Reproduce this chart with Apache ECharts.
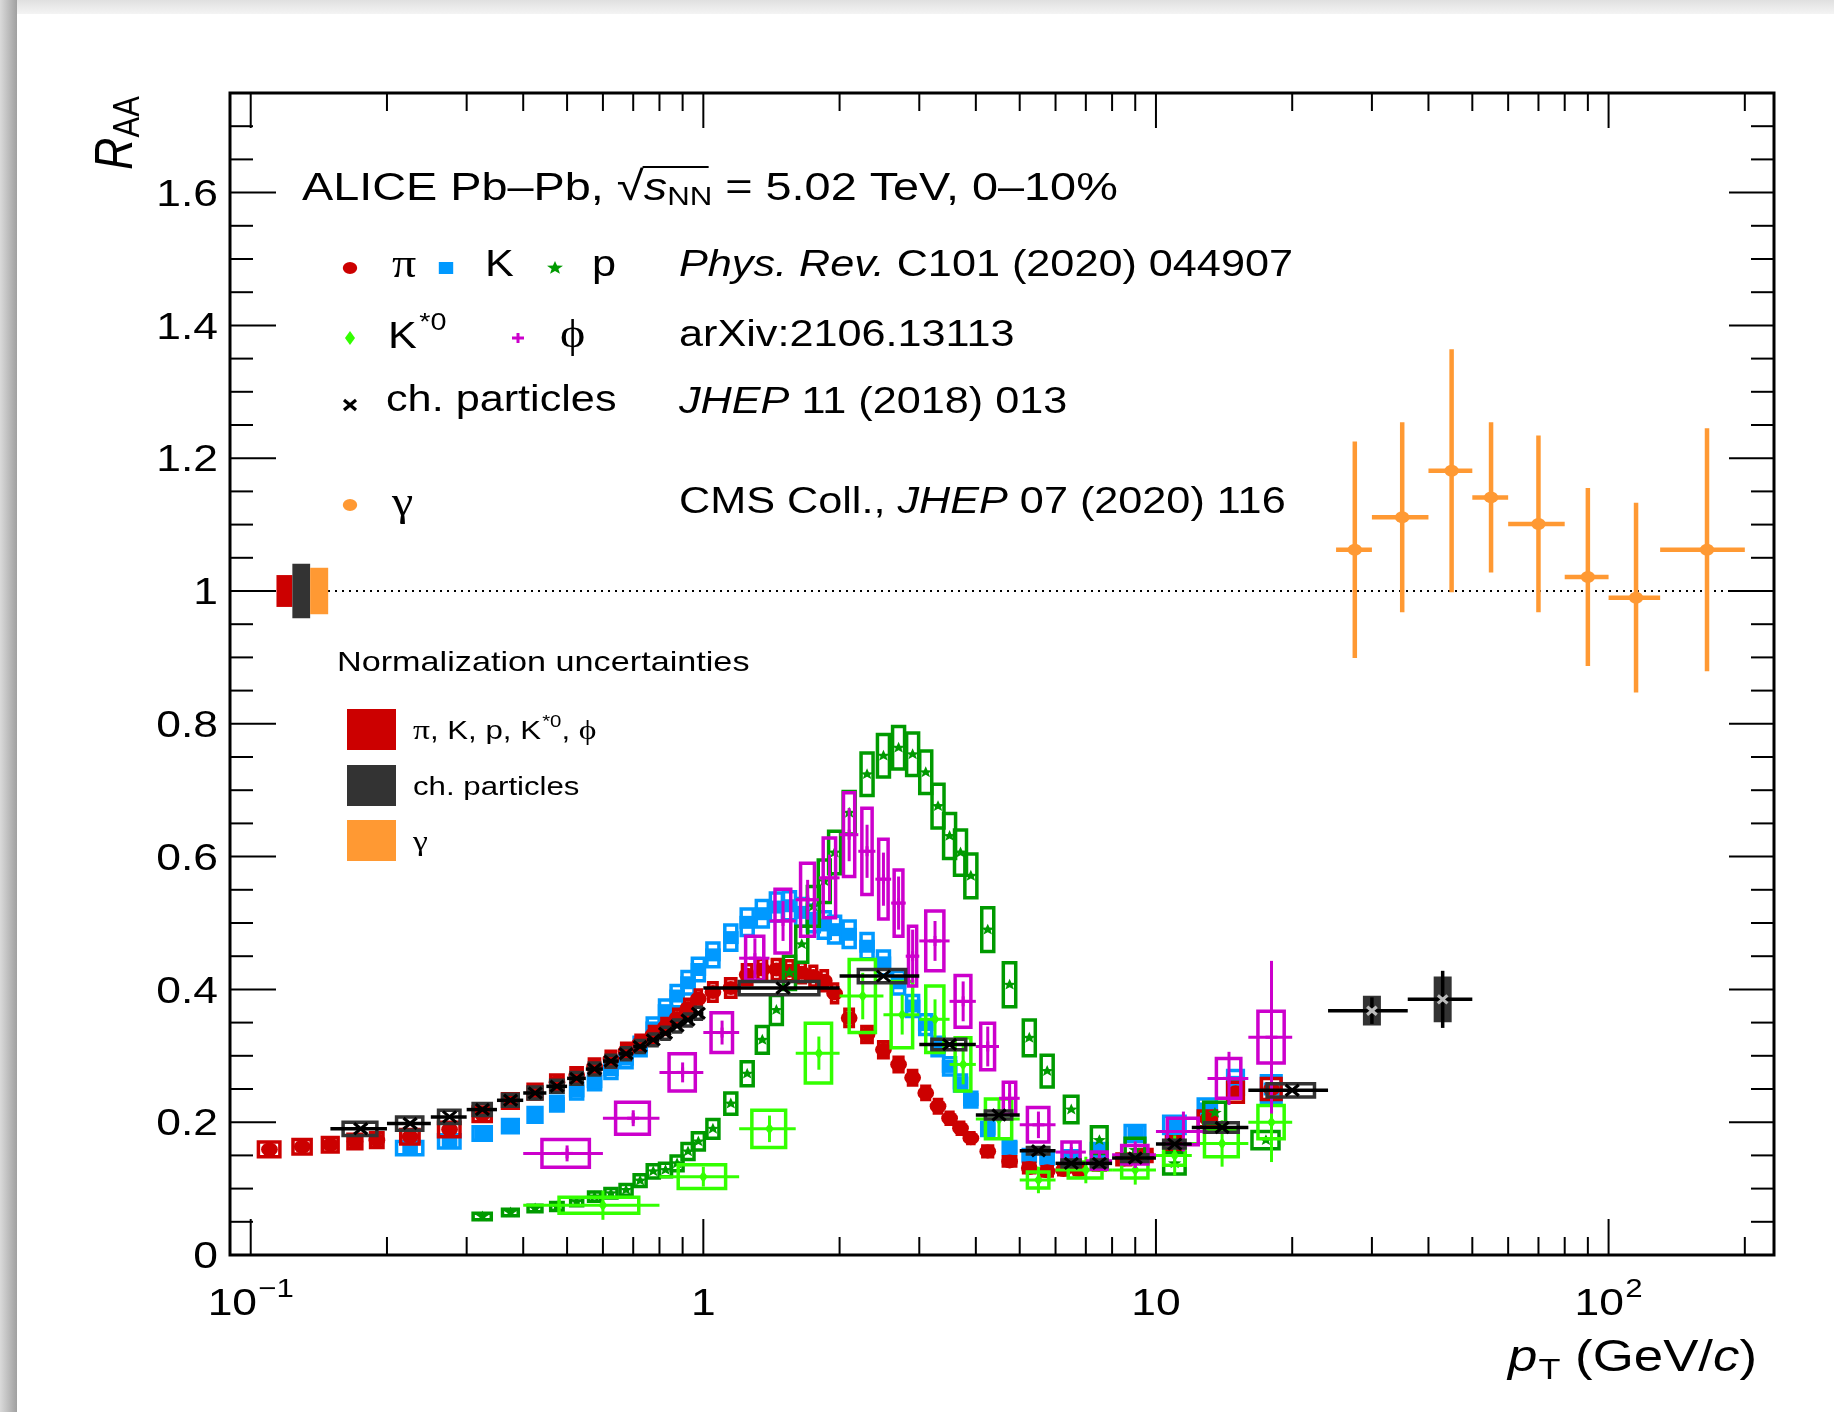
<!DOCTYPE html>
<html><head><meta charset="utf-8">
<script src="https://cdn.jsdelivr.net/npm/echarts@6/dist/echarts.min.js"></script>
<style>
html,body{margin:0;padding:0;background:#fff;}
#bgTop{position:absolute;left:0;top:0;width:1834px;height:14px;background:linear-gradient(#e0e0e0,#f4f4f4);}
#bgLeft{position:absolute;left:0;top:0;width:17px;height:1412px;background:linear-gradient(to right,#dadada,#a0a0a0);}
#chart{position:absolute;left:0;top:0;width:1834px;height:1412px;}
</style></head><body>
<div id="bgTop"></div><div id="bgLeft"></div><div id="chart"></div>
<script>
// ---------------- axes ----------------
const X_MIN = 0.09, X_MAX = 232, Y_MIN = 0, Y_MAX = 1.75;
const xMajorTicks = [0.1, 1, 10, 100];
const xMinorTicks = [0.2,0.3,0.4,0.5,0.6,0.7,0.8,0.9, 2,3,4,5,6,7,8,9, 20,30,40,50,60,70,80,90, 200];
const xTickLabels = [['10','\u22121'], ['1',''], ['10',''], ['10','2']];
const yMajorTicks = [0, 0.2, 0.4, 0.6, 0.8, 1.0, 1.2, 1.4, 1.6];
const yTickLabels = ['0','0.2','0.4','0.6','0.8','1','1.2','1.4','1.6'];
const yMinorTicks = [0.05,0.1,0.15,0.25,0.3,0.35,0.45,0.5,0.55,0.65,0.7,0.75,0.85,0.9,0.95,1.05,1.1,1.15,1.25,1.3,1.35,1.45,1.5,1.55,1.65,1.7];

// ---------------- data ----------------
// pi: [pT, RAA, sys]
const piData = [[0.11,0.159,0.011],[0.13,0.163,0.011],[0.15,0.166,0.011],[0.17,0.171,0.011],[0.19,0.173,0.011],
 [0.225,0.178,0.011],[0.275,0.189,0.011],[0.325,0.212,0.011],[0.375,0.232,0.011],[0.425,0.246,0.011],[0.475,0.260,0.011],
 [0.525,0.271,0.011],[0.575,0.284,0.011],[0.625,0.295,0.012],[0.675,0.307,0.012],[0.725,0.319,0.012],[0.775,0.332,0.012],
 [0.825,0.344,0.012],[0.875,0.357,0.013],[0.925,0.372,0.013],[0.975,0.386,0.013],[1.05,0.396,0.014],[1.15,0.402,0.014],
 [1.25,0.422,0.015],[1.35,0.430,0.015],[1.45,0.430,0.015],[1.55,0.428,0.015],[1.65,0.425,0.015],[1.75,0.420,0.015],
 [1.85,0.413,0.015],[1.95,0.394,0.014],[2.1,0.357,0.013],[2.3,0.332,0.012],[2.5,0.309,0.012],[2.7,0.287,0.011],
 [2.9,0.267,0.011],[3.1,0.244,0.010],[3.3,0.224,0.010],[3.5,0.206,0.009],[3.7,0.191,0.009],[3.9,0.176,0.008],
 [4.25,0.156,0.008],[4.75,0.141,0.007],[5.25,0.131,0.007],[5.75,0.126,0.007],[6.25,0.128,0.007],[6.75,0.128,0.007],
 [7.5,0.136,0.008],[8.5,0.144,0.008],[9.5,0.150,0.009],[11,0.168,0.010],[13,0.205,0.012],[15,0.245,0.015],[18,0.250,0.016]];
// K: [pT, RAA, sys]
const kData = [[0.225,0.161,0.010],[0.275,0.171,0.010],[0.325,0.183,0.010],[0.375,0.194,0.010],[0.425,0.211,0.011],
 [0.475,0.228,0.011],[0.525,0.247,0.012],[0.575,0.261,0.012],[0.625,0.279,0.013],[0.675,0.295,0.013],[0.725,0.314,0.014],
 [0.775,0.342,0.015],[0.825,0.368,0.016],[0.875,0.390,0.016],[0.925,0.410,0.017],[0.975,0.430,0.017],[1.05,0.452,0.018],
 [1.15,0.478,0.019],[1.25,0.501,0.020],[1.35,0.514,0.020],[1.45,0.524,0.021],[1.55,0.526,0.021],[1.65,0.516,0.021],
 [1.75,0.507,0.020],[1.85,0.497,0.020],[1.95,0.490,0.020],[2.1,0.483,0.020],[2.3,0.465,0.019],[2.5,0.440,0.018],
 [2.7,0.410,0.017],[2.9,0.375,0.016],[3.1,0.347,0.015],[3.3,0.314,0.014],[3.5,0.284,0.013],[3.7,0.259,0.012],
 [3.9,0.234,0.011],[4.25,0.190,0.010],[4.75,0.162,0.009],[5.25,0.150,0.009],[5.75,0.146,0.009],[6.5,0.148,0.009],
 [7.5,0.158,0.010],[9,0.183,0.012],[11,0.196,0.013],[13,0.220,0.015],[15,0.260,0.018],[18,0.250,0.020]];
// p: [pT, RAA, sys]
const pData = [[0.325,0.058,0.005],[0.375,0.064,0.005],[0.425,0.070,0.005],[0.475,0.073,0.006],[0.525,0.080,0.006],
 [0.575,0.088,0.007],[0.625,0.093,0.007],[0.675,0.098,0.008],[0.725,0.112,0.009],[0.775,0.126,0.010],[0.825,0.128,0.010],
 [0.875,0.138,0.011],[0.925,0.156,0.012],[0.975,0.171,0.013],[1.05,0.190,0.014],[1.15,0.228,0.016],[1.25,0.273,0.018],
 [1.35,0.324,0.020],[1.45,0.369,0.022],[1.55,0.425,0.025],[1.65,0.468,0.027],[1.75,0.525,0.030],[1.85,0.563,0.032],
 [1.95,0.606,0.032],[2.1,0.666,0.032],[2.3,0.724,0.032],[2.5,0.752,0.032],[2.7,0.764,0.032],[2.9,0.754,0.032],
 [3.1,0.727,0.032],[3.3,0.676,0.033],[3.5,0.631,0.034],[3.7,0.606,0.034],[3.9,0.571,0.033],[4.25,0.490,0.033],
 [4.75,0.407,0.033],[5.25,0.327,0.027],[5.75,0.277,0.024],[6.5,0.219,0.020],[7.5,0.173,0.020],[9,0.158,0.018],
 [11,0.138,0.016],[13.5,0.214,0.016],[17.5,0.173,0.013]];
// K*0: [pT low, pT high, RAA, stat, sys]
const kstarData = [[0.4,0.8,0.075,0.022,0.012],[0.8,1.2,0.118,0.015,0.018],[1.2,1.6,0.190,0.020,0.028],
 [1.6,2.0,0.304,0.025,0.045],[2.0,2.5,0.390,0.035,0.055],[2.5,3.0,0.362,0.030,0.050],[3.0,3.5,0.355,0.030,0.050],
 [3.5,4.0,0.287,0.030,0.040],[4.0,5.0,0.205,0.030,0.030],[5.0,6.0,0.113,0.020,0.012],[6.0,8.0,0.128,0.020,0.012],
 [8.0,10.0,0.128,0.022,0.012],[10.0,12.0,0.150,0.030,0.015],[12.0,16.0,0.168,0.035,0.020],[16.0,20.0,0.200,0.060,0.025]];
// phi: [pT low, pT high, RAA, stat, sys]
const phiData = [[0.4,0.6,0.153,0.012,0.021],[0.6,0.8,0.206,0.012,0.024],[0.8,1.0,0.275,0.015,0.028],
 [1.0,1.2,0.335,0.018,0.030],[1.2,1.4,0.447,0.030,0.033],[1.4,1.6,0.503,0.030,0.048],[1.6,1.8,0.535,0.030,0.055],
 [1.8,2.0,0.568,0.035,0.060],[2.0,2.2,0.633,0.040,0.063],[2.2,2.4,0.608,0.040,0.065],[2.4,2.6,0.566,0.040,0.060],
 [2.6,2.8,0.530,0.040,0.050],[2.8,3.0,0.450,0.040,0.045],[3.0,3.5,0.473,0.030,0.045],[3.5,4.0,0.382,0.030,0.039],
 [4.0,4.5,0.314,0.030,0.035],[4.5,5.0,0.236,0.025,0.024],[5.0,6.0,0.196,0.020,0.026],[6.0,7.0,0.155,0.015,0.015],
 [7.0,8.0,0.142,0.015,0.013],[8.0,10.0,0.151,0.020,0.014],[10.0,13.0,0.186,0.030,0.020],[13.0,16.0,0.266,0.040,0.030],
 [16.0,20.0,0.328,0.115,0.039]];
// charged particles: [pT low, pT high, RAA, sys]
const chData = [[0.15,0.2,0.190,0.010],[0.2,0.25,0.198,0.010],[0.25,0.3,0.208,0.010],[0.3,0.35,0.219,0.009],
 [0.35,0.4,0.233,0.009],[0.4,0.45,0.244,0.009],[0.45,0.5,0.254,0.009],[0.5,0.55,0.266,0.009],[0.55,0.6,0.280,0.009],
 [0.6,0.65,0.292,0.009],[0.65,0.7,0.303,0.009],[0.7,0.75,0.314,0.009],[0.75,0.8,0.324,0.009],[0.8,0.85,0.334,0.009],
 [0.85,0.9,0.345,0.009],[0.9,0.95,0.354,0.009],[0.95,1.0,0.364,0.009],[1,2,0.402,0.010],[2,3,0.420,0.010],
 [3,4,0.317,0.008],[4,5,0.211,0.006],[5,6,0.157,0.005],[6,7,0.138,0.005],[7,8,0.138,0.005],[8,10,0.146,0.005],
 [10,12,0.167,0.006],[12,16,0.192,0.007],[16,24,0.248,0.010]];
// charged particles, highest pT: [pT low, pT high, RAA, stat, sys]
const chHighData = [[24,36,0.368,0.020,0.021],[36,50,0.385,0.043,0.033]];
// isolated photons (CMS): [pT low, pT high, RAA, err]
const gammaData = [[25,30,1.062,0.163],[30,40,1.111,0.143],[40,50,1.181,0.183],[50,60,1.141,0.113],
 [60,80,1.101,0.133],[80,100,1.021,0.134],[100,130,0.990,0.143],[130,200,1.062,0.183]];
// normalization uncertainties: pi/K/p/K*0/phi, ch. particles, gamma
const normUnc = [0.024, 0.041, 0.035];
const normSlots = [[0.114, 0.1236], [0.1236, 0.1353], [0.1353, 0.1483]];

// ---------------- style ----------------
const SX = 1.2;
const SANS = '"Liberation Sans", Arial, Helvetica, sans-serif';
const SERIF = '"Liberation Serif", "DejaVu Serif", "Times New Roman", serif';
const C = {pi:'#cc0000', k:'#0099ff', p:'#009a00', kstar:'#33ff00', phi:'#cc00cc', ch:'#000000', chBox:'#333333', gamma:'#ff9933'};
const GRID = {left:230, top:93, width:1544, height:1162};

const mctx = document.createElement('canvas').getContext('2d');
function fontStr(p){ return (p.it ? 'italic ' : '') + p.size + 'px ' + (p.serif ? SERIF : SANS); }
function measure(p){ mctx.font = fontStr(p); return mctx.measureText(p.t).width; }
function txt(x, y, t, font, align){
  return {type:'text', x:x, y:y, style:{text:t, font:font, fill:'#000', align:align||'left', textAlign:align||'left', verticalAlign:'middle', textVerticalAlign:'middle'}};
}
function runChildren(pieces){
  let cx = 0; const ch = []; const pos = [];
  pieces.forEach(p => { cx += (p.dx||0); pos.push(cx); ch.push(txt(cx, p.dy||0, p.t, fontStr(p))); cx += measure(p); });
  return {children: ch, width: cx, pos: pos};
}
function run(x, y, pieces, extra){
  const r = runChildren(pieces);
  return {type:'group', x:x, y:y, scaleX:SX, silent:true, children: r.children.concat(extra ? extra(r) : [])};
}
function ln(a, b, color, w, dash){
  return {type:'line', shape:{x1:a[0], y1:a[1], x2:b[0], y2:b[1]}, style:{stroke:color, lineWidth:w, lineDash:dash||null}};
}
function marker(type, x, y, color, s){
  if (type === 'circle') return {type:'circle', x:x, y:y, scaleX:SX, shape:{cx:0, cy:0, r:s}, style:{fill:color}};
  if (type === 'square') return {type:'rect', shape:{x:x - s*SX, y:y - s, width:2*s*SX, height:2*s}, style:{fill:color}};
  if (type === 'star') {
    const pts = [];
    for (let k = 0; k < 10; k++) { const a = -Math.PI/2 + k*Math.PI/5; const rr = k % 2 === 0 ? s : s*0.42; pts.push([x + rr*Math.cos(a)*SX, y + rr*Math.sin(a)]); }
    return {type:'polygon', shape:{points:pts}, style:{fill:color}};
  }
  if (type === 'diamond') return {type:'polygon', shape:{points:[[x, y - s], [x + s*0.6*SX, y], [x, y + s], [x - s*0.6*SX, y]]}, style:{fill:color}};
  if (type === 'plus') return {type:'group', children:[ln([x - s*SX, y], [x + s*SX, y], color, 3), ln([x, y - s], [x, y + s], color, 3)]};
  if (type === 'cross') return {type:'group', children:[ln([x - s*SX, y - s], [x + s*SX, y + s], color, 3.2), ln([x - s*SX, y + s], [x + s*SX, y - s], color, 3.2)]};
}

// rows: [pT, R, stat, sys, lo, hi, boxLo, boxHi]
function fineRows(arr){
  return arr.map((d, i) => {
    const prev = i > 0 ? d[0] - arr[i-1][0] : arr[1][0] - d[0];
    const next = i < arr.length - 1 ? arr[i+1][0] - d[0] : prev;
    const w = Math.min(prev, next);
    return [d[0], d[1], 0, d[2], d[0], d[0], d[0] - 0.3*w, d[0] + 0.3*w];
  });
}
function binRows(arr, hasStat){
  return arr.map(d => {
    const c = (d[0] + d[1]) / 2, w = d[1] - d[0];
    const stat = hasStat ? d[3] : 0, sys = hasStat ? d[4] : d[3];
    return [c, d[2], stat, sys, d[0], d[1], c - 0.3*w, c + 0.3*w];
  });
}
function gammaRows(arr){ return arr.map(d => { const c = (d[0] + d[1]) / 2; return [c, d[2], d[3], 0, d[0], d[1], c, c]; }); }

function pointsRender(st){
  return function(params, api){
    const pt = api.value(0), r = api.value(1), stat = api.value(2), sys = api.value(3);
    const lo = api.value(4), hi = api.value(5), blo = api.value(6), bhi = api.value(7);
    const c = api.coord([pt, r]);
    const ch = [];
    if (sys > 0) {
      const a = api.coord([blo, r + sys]), b = api.coord([bhi, r - sys]);
      let x0 = a[0], x1 = b[0];
      if (st.boxHalfPx) { x0 = c[0] - st.boxHalfPx; x1 = c[0] + st.boxHalfPx; }
      if (st.minBoxHalfPx && (x1 - x0) < 2*st.minBoxHalfPx) { x0 = c[0] - st.minBoxHalfPx; x1 = c[0] + st.minBoxHalfPx; }
      ch.push({type:'rect', shape:{x:x0, y:a[1], width:x1 - x0, height:b[1] - a[1]},
        style:{fill: st.boxFill || 'none', stroke: st.boxColor, lineWidth: st.boxLW}});
    }
    if (st.xbar && hi > lo) ch.push(ln(api.coord([lo, r]), api.coord([hi, r]), st.barColor, st.barLW));
    if (stat > 0) ch.push(ln(api.coord([pt, r - stat]), api.coord([pt, r + stat]), st.barColor, st.barLW));
    ch.push(marker(st.marker, c[0], c[1], st.markerColor, st.markerSize));
    return {type:'group', children: ch};
  };
}
function pointSeries(name, rows, st){
  return {type:'custom', name:name, coordinateSystem:'cartesian2d', xAxisIndex:0, yAxisIndex:0,
    data: rows, encode:{x:0, y:1}, renderItem: pointsRender(st), silent:true, clip:false};
}

// ticks
const xTickRows = xMajorTicks.map(v => [v, Y_MIN, 1]).concat(xMinorTicks.map(v => [v, Y_MIN, 0]));
const yTickRows = yMajorTicks.map(v => [X_MIN, v, 1]).concat(yMinorTicks.map(v => [X_MIN, v, 0]));

const series = [
  // dotted reference line at R_AA = 1
  {type:'custom', coordinateSystem:'cartesian2d', data:[[X_MIN, 1]], silent:true, renderItem:(params, api) => {
    const cs = params.coordSys, y = api.coord([X_MIN, api.value(1)])[1];
    return ln([cs.x, y], [cs.x + cs.width, y], '#000', 2, [2, 5]);
  }},
  // ticks
  {type:'custom', coordinateSystem:'cartesian2d', data:xTickRows, silent:true, clip:false, renderItem:(params, api) => {
    const cs = params.coordSys, x = api.coord([api.value(0), Y_MIN])[0], major = api.value(2) === 1;
    const lb = major ? 36 : 18, lt = major ? 35 : 18, yb = cs.y + cs.height;
    return {type:'group', children:[ln([x, yb], [x, yb - lb], '#000', 2), ln([x, cs.y], [x, cs.y + lt], '#000', 2)]};
  }},
  {type:'custom', coordinateSystem:'cartesian2d', data:yTickRows, silent:true, clip:false, renderItem:(params, api) => {
    const cs = params.coordSys, y = api.coord([X_MIN, api.value(1)])[1], major = api.value(2) === 1;
    const ll = major ? 46 : 23, lr = major ? 45 : 23, xr = cs.x + cs.width;
    return {type:'group', children:[ln([cs.x, y], [cs.x + ll, y], '#000', 2), ln([xr, y], [xr - lr, y], '#000', 2)]};
  }},
  // tick labels
  {type:'custom', coordinateSystem:'cartesian2d', data:xMajorTicks.map((v, i) => [v, Y_MIN, i]), silent:true, clip:false,
   renderItem:(params, api) => {
    const i = api.value(2), lab = xTickLabels[i];
    const p = api.coord([api.value(0), Y_MIN]);
    const base = {t:lab[0], size:37}, sup = {t:lab[1], size:26};
    const wb = measure(base), ws = lab[1] ? measure(sup) + 1 : 0, w = wb + ws;
    const ch = [txt(-w/2, 0, lab[0], fontStr(base))];
    if (lab[1]) ch.push(txt(-w/2 + wb + 1, -15, lab[1], fontStr(sup)));
    return {type:'group', x:p[0], y:p[1] + 50, scaleX:SX, children:ch};
  }},
  {type:'custom', coordinateSystem:'cartesian2d', data:yMajorTicks.map((v, i) => [X_MIN, v, i]), silent:true, clip:false,
   renderItem:(params, api) => {
    const p = api.coord([X_MIN, api.value(1)]);
    return {type:'group', x:p[0] - 12, y:p[1] + 3, scaleX:SX, children:[txt(0, 0, yTickLabels[api.value(2)], fontStr({size:37}), 'right')]};
  }},
  // normalization boxes
  {type:'custom', coordinateSystem:'cartesian2d', silent:true,
   data: normUnc.map((u, i) => [normSlots[i][0], 1, u, normSlots[i][1], i]), encode:{x:0, y:1},
   renderItem:(params, api) => {
    const u = api.value(2), i = api.value(4);
    const a = api.coord([api.value(0), 1 + u]), b = api.coord([api.value(3), 1 - u]);
    return {type:'rect', shape:{x:a[0], y:a[1], width:b[0] - a[0], height:b[1] - a[1]}, style:{fill:[C.pi, C.chBox, C.gamma][i]}};
  }},
  pointSeries('K', fineRows(kData), {marker:'square', markerColor:C.k, markerSize:6.5, boxColor:C.k, boxLW:3.5, minBoxHalfPx:6}),
  pointSeries('pi', fineRows(piData), {marker:'circle', markerColor:C.pi, markerSize:7, boxColor:C.pi, boxLW:3.5}),
  pointSeries('p', fineRows(pData), {marker:'star', markerColor:C.p, markerSize:6, boxColor:C.p, boxLW:3.5, minBoxHalfPx:6}),
  pointSeries('Kstar', binRows(kstarData, true), {marker:'diamond', markerColor:C.kstar, markerSize:6, boxColor:C.kstar, boxLW:3.5, xbar:true, barColor:C.kstar, barLW:3}),
  pointSeries('phi', binRows(phiData, true), {marker:'plus', markerColor:C.phi, markerSize:5, boxColor:C.phi, boxLW:3.5, xbar:true, barColor:C.phi, barLW:3}),
  pointSeries('ch', binRows(chData, false), {marker:'cross', markerColor:C.ch, markerSize:5.5, boxColor:C.chBox, boxLW:3.5, xbar:true, barColor:C.ch, barLW:3.5}),
  pointSeries('chHigh', binRows(chHighData, true), {marker:'cross', markerColor:'#bbbbbb', markerSize:4, boxColor:C.chBox, boxFill:C.chBox, boxLW:2, boxHalfPx:8, xbar:true, barColor:C.ch, barLW:3.5}),
  pointSeries('gamma', gammaRows(gammaData), {marker:'circle', markerColor:C.gamma, markerSize:6, xbar:true, barColor:C.gamma, barLW:4.5})
];

// ---------------- texts / legends ----------------
const L = 36;
const graphics = [
  // title
  run(302, 189, [{t:'ALICE Pb\u2013Pb, ', size:39}, {t:'\u221A', size:41}, {t:'s', size:39, it:true}, {t:'NN', size:26, dy:9}, {t:' = 5.02 TeV, 0\u201310%', size:39}],
    r => [ln([r.pos[2] - 1, -22], [r.pos[4] - 3, -22], '#000', 2)]),
  // row 1
  marker('circle', 350, 268, C.pi, 6), run(392, 266, [{t:'\u03C0', size:40, serif:true}]),
  marker('square', 446, 268, C.k, 6), run(485, 266, [{t:'K', size:L}]),
  marker('star', 555, 268, C.p, 7), run(592, 266, [{t:'p', size:L}]),
  run(679, 266, [{t:'Phys. Rev.', size:L, it:true}, {t:' C101 (2020) 044907', size:L}]),
  // row 2
  marker('diamond', 350, 338, C.kstar, 7), run(388, 338, [{t:'K', size:L}, {t:'*0', size:24, dy:-15, dx:2}]),
  marker('plus', 518, 338, C.phi, 5), run(560, 336, [{t:'\u03D5', size:40, serif:true}]),
  run(679, 336, [{t:'arXiv:2106.13113', size:L}]),
  // row 3
  marker('cross', 350, 405, '#000', 5), run(386, 401, [{t:'ch. particles', size:L}]),
  run(679, 403, [{t:'JHEP', size:L, it:true}, {t:' 11 (2018) 013', size:L}]),
  // row 4
  marker('circle', 350, 505, C.gamma, 6), run(392, 504, [{t:'\u03B3', size:40, serif:true}]),
  run(679, 503, [{t:'CMS Coll., ', size:L}, {t:'JHEP', size:L, it:true}, {t:' 07 (2020) 116', size:L}]),
  // normalization legend
  run(337, 663, [{t:'Normalization uncertainties', size:28.5}]),
  {type:'rect', shape:{x:347, y:709, width:49, height:41}, style:{fill:C.pi}},
  {type:'rect', shape:{x:347, y:765, width:49, height:41}, style:{fill:C.chBox}},
  {type:'rect', shape:{x:347, y:820, width:49, height:41}, style:{fill:C.gamma}},
  run(413, 732, [{t:'\u03C0', size:28, serif:true}, {t:', K, p, K', size:26}, {t:'*0', size:17, dy:-10, dx:1}, {t:', ', size:26}, {t:'\u03D5', size:28, serif:true}]),
  run(413, 788, [{t:'ch. particles', size:26}]),
  run(413, 843, [{t:'\u03B3', size:28, serif:true}]),
  // axis titles
  {type:'group', x:117, y:170, rotation:Math.PI/2, scaleY:SX, silent:true,
   children: runChildren([{t:'R', size:45, it:true}, {t:'AA', size:31, dy:10}]).children},
];
(function(){
  const pcs = [{t:'p', size:44, it:true}, {t:'T', size:30, dy:12, dx:1}, {t:' (GeV/', size:44}, {t:'c', size:44, it:true}, {t:')', size:44}];
  const w = runChildren(pcs).width;
  graphics.push(run(1757 - w*SX, 1359, pcs));
})();

const chart = echarts.init(document.getElementById('chart'), null, {renderer:'canvas'});
chart.setOption({
  backgroundColor:'transparent',
  animation:false,
  grid:{left:GRID.left, top:GRID.top, width:GRID.width, height:GRID.height, show:true, borderColor:'#000', borderWidth:3, backgroundColor:'transparent'},
  xAxis:{type:'log', logBase:10, min:X_MIN, max:X_MAX, axisLine:{show:false}, axisTick:{show:false}, axisLabel:{show:false}, splitLine:{show:false}},
  yAxis:{type:'value', min:Y_MIN, max:Y_MAX, axisLine:{show:false}, axisTick:{show:false}, axisLabel:{show:false}, splitLine:{show:false}},
  graphic: graphics,
  series: series
});
</script></body></html>
